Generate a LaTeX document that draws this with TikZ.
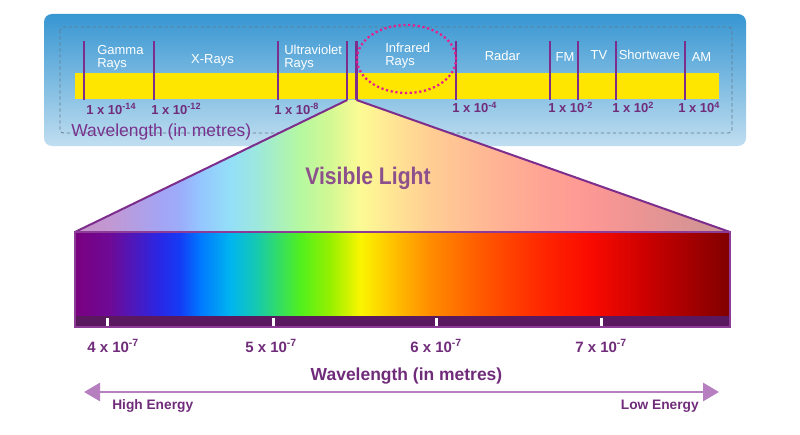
\documentclass[tikz,border=0pt]{standalone}
\usepackage{fontspec}
\setmainfont{Liberation Sans}
\newfontfamily\vlfont[FakeStretch=0.88]{Liberation Sans}
\usetikzlibrary{arrows.meta,shapes.geometric}
\definecolor{panelTop}{RGB}{55,150,210}
\definecolor{panelBot}{RGB}{192,222,240}
\definecolor{barYellow}{RGB}{255,230,0}
\definecolor{linePurple}{RGB}{125,45,140}
\definecolor{numPurple}{RGB}{112,44,122}
\definecolor{wlPurple}{RGB}{120,50,140}
\definecolor{vlPurple}{RGB}{140,80,140}
\definecolor{arrowPurple}{RGB}{182,128,192}
\definecolor{bandPurple}{RGB}{90,25,95}
\definecolor{boxPurple}{RGB}{140,60,150}
\definecolor{dashGray}{RGB}{100,120,140}
\definecolor{irMagenta}{RGB}{230,30,140}
\definecolor{rbA}{RGB}{122,0,128}
\definecolor{rbB}{RGB}{110,10,150}
\definecolor{rbC}{RGB}{40,40,230}
\definecolor{rbD}{RGB}{20,60,245}
\definecolor{rbE}{RGB}{0,120,255}
\definecolor{rbF}{RGB}{0,180,240}
\definecolor{rbG}{RGB}{20,200,180}
\definecolor{rbH}{RGB}{80,240,30}
\definecolor{rbI}{RGB}{150,240,0}
\definecolor{rbJ}{RGB}{250,245,0}
\definecolor{rbK}{RGB}{255,190,0}
\definecolor{rbL}{RGB}{255,140,0}
\definecolor{rbM}{RGB}{255,90,0}
\definecolor{rbN}{RGB}{255,40,0}
\definecolor{rbO}{RGB}{250,10,0}
\definecolor{rbP}{RGB}{200,0,0}
\definecolor{rbQ}{RGB}{128,0,0}
\pgfdeclarehorizontalshading{rainbow}{100bp}{color(0bp)=(rbA); color(25bp)=(rbA); color(27.67bp)=(rbB); color(31.49bp)=(rbC); color(33.02bp)=(rbD); color(34.54bp)=(rbE); color(36.83bp)=(rbF); color(38.74bp)=(rbG); color(42.18bp)=(rbH); color(44.47bp)=(rbI); color(46.76bp)=(rbJ); color(49.43bp)=(rbK); color(52.10bp)=(rbL); color(55.92bp)=(rbM); color(60.50bp)=(rbN); color(64.31bp)=(rbO); color(68.89bp)=(rbP); color(75bp)=(rbQ); color(100bp)=(rbQ)}
\newcommand\supx[1]{\textsuperscript{#1}}
\tikzset{
  bandlbl/.style={inner sep=0pt, text=white, font=\fontsize{9.75pt}{11pt}\selectfont},
  toplbl/.style={inner sep=0pt, text=numPurple, font=\bfseries\fontsize{9.75pt}{11pt}\selectfont},
  vislbl/.style={inner sep=0pt, text=numPurple, font=\bfseries\fontsize{11.25pt}{13pt}\selectfont},
  energylbl/.style={inner sep=0pt, text=numPurple, font=\bfseries\fontsize{10.3pt}{12pt}\selectfont},
  bandline/.style={draw=linePurple, line width=1.65pt},
  tick/.style={fill=white, draw=none},
}
\begin{document}
\begin{tikzpicture}[x=0.75pt,y=-0.75pt]
\useasboundingbox (0,0) rectangle (800,435);
% top panel
\shade[top color=panelTop, bottom color=panelBot, rounded corners=6pt] (44,14) rectangle (746,146);
\draw[dashGray, line width=0.6pt, dash pattern=on 2.5pt off 2pt, rounded corners=2.5pt] (60,27) rectangle (732,133);
\fill[barYellow] (75,73) rectangle (719,99);
% band separators
\foreach \n/\x in {a/84,b/154,c/278,d/347.3,e/356.5,f/456,g/550,h/578,i/616,j/685}{
  \coordinate (t\n) at (\x,41);
  \coordinate (b\n) at (\x,100);
  \draw[bandline] (t\n) -- (b\n);
}
% infrared ellipse
\node[draw=irMagenta, line width=1.7pt, dash pattern=on 1.6pt off 2pt, ellipse, minimum width=74.25pt, minimum height=51pt, inner sep=0pt] (ir) at (406.5,59) {};
% band labels
\node[bandlbl, anchor=base west] (gamma1) at (97,55) {Gamma};
\node[bandlbl, anchor=base west] (gamma2) at (97,68) {Rays};
\node[bandlbl, anchor=base] (xray) at (212.5,64) {X-Rays};
\node[bandlbl, anchor=base west] (uv1) at (284,55) {Ultraviolet};
\node[bandlbl, anchor=base west] (uv2) at (284,68) {Rays};
\node[bandlbl, anchor=base west] (ir1) at (385,53) {Infrared};
\node[bandlbl, anchor=base west] (ir2) at (385,66) {Rays};
\node[bandlbl, anchor=base] (radar) at (502.5,61) {Radar};
\node[bandlbl, anchor=base] (fm) at (565,62) {FM};
\node[bandlbl, anchor=base] (tv) at (599,60) {TV};
\node[bandlbl, anchor=base] (sw) at (649.5,60) {Shortwave};
\node[bandlbl, anchor=base] (am) at (701.5,62) {AM};
% wavelength numbers
\node[toplbl, anchor=base west] (n1) at (86,114) {1 x 10\supx{-14}};
\node[toplbl, anchor=base west] (n2) at (151,114) {1 x 10\supx{-12}};
\node[toplbl, anchor=base west] (n3) at (274,114) {1 x 10\supx{-8}};
\node[toplbl, anchor=base west] (n4) at (452,113) {1 x 10\supx{-4}};
\node[toplbl, anchor=base west] (n5) at (548,113) {1 x 10\supx{-2}};
\node[toplbl, anchor=base west] (n6) at (612,113) {1 x 10\supx{2}};
\node[toplbl, anchor=base west] (n7) at (678,113) {1 x 10\supx{4}};
\node[inner sep=0pt, anchor=base west, text=wlPurple, font=\fontsize{13.1pt}{15pt}\selectfont] (wltop) at (71,137) {Wavelength (in metres)};
% visible light trapezoid
\coordinate (lb) at (75,232);
\coordinate (rb) at (730,232);
\shade[shading=rainbow] (lb) -- (bd) -- (be) -- (rb) -- cycle;
\fill[white, opacity=0.58] (lb) -- (bd) -- (be) -- (rb) -- cycle;
\draw[linePurple, line width=1.5pt] (bd) -- (lb);
\draw[linePurple, line width=1.5pt] (be) -- (rb);
\node[inner sep=0pt, anchor=base, text=vlPurple, font=\vlfont\bfseries\fontsize{18pt}{20pt}\selectfont] (vl) at (368,185) {Visible Light};
% spectrum box
\shade[shading=rainbow] (75,232) rectangle (730,316);
\fill[bandPurple] (75,316) rectangle (730,327);
\foreach \x in {107.5,273,436,601}{
  \fill[tick] (\x-1.5,317.5) rectangle (\x+1.5,327);
}
\draw[boxPurple, line width=1.2pt] (75,232) rectangle (730,327);
% visible wavelengths
\node[vislbl, anchor=base west] (v4) at (87,352) {4 x 10\supx{-7}};
\node[vislbl, anchor=base west] (v5) at (245,352) {5 x 10\supx{-7}};
\node[vislbl, anchor=base west] (v6) at (410,352) {6 x 10\supx{-7}};
\node[vislbl, anchor=base west] (v7) at (575,352) {7 x 10\supx{-7}};
\node[inner sep=0pt, anchor=base, text=numPurple, font=\bfseries\fontsize{13.1pt}{15pt}\selectfont] (wlbot) at (406.5,380) {Wavelength (in metres)};
% energy arrow
\coordinate (aleft) at (84,392);
\coordinate (aright) at (719,392);
\draw[arrowPurple, line width=2.2pt, {Triangle[length=12pt,width=13.5pt]}-{Triangle[length=12pt,width=13.5pt]}] (aleft) -- (aright);
\node[energylbl, anchor=base west] (he) at (112,409) {High Energy};
\node[energylbl, anchor=base east] (le) at (699,409) {Low Energy};
\end{tikzpicture}
\end{document}
